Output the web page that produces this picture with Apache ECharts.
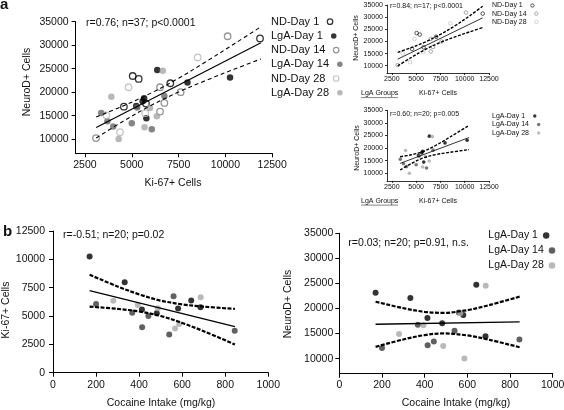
<!DOCTYPE html>
<html><head><meta charset="utf-8">
<script src="https://cdn.jsdelivr.net/npm/echarts@6/dist/echarts.min.js"></script>
<style>html,body{margin:0;padding:0;background:#fff}#c{width:564px;height:410px}</style>
</head><body><div id="c"></div>
<script>
// ---------- DATA ----------
// LgA rats: cocaine intake (mg/kg), Ki-67+ cells, NeuroD+ cells
const lgaDay1Cocaine  = [170, 333, 413, 482, 581, 642, 685];
const lgaDay1Ki67     = [10250, 7975, 5580, 5240, 5660, 6360, 5780];
const lgaDay1NeuroD   = [23150, 22080, 18100, 17050, 18700, 24750, 14450];
const lgaDay14Cocaine = [200, 368, 414, 443, 540, 560, 844];
const lgaDay14Ki67    = [6070, 5290, 4010, 5000, 3370, 6740, 3700];
const lgaDay14NeuroD  = [12130, 16750, 12680, 13400, 15580, 19200, 13800];
const lgaDay28Cocaine = [280, 394, 487, 567, 586, 686];
const lgaDay28Ki67    = [6340, 5970, 5680, 3910, 4300, 6660];
const lgaDay28NeuroD  = [14900, 16650, 12540, 19050, 10050, 24550];
// ND rats: Ki-67+ cells, NeuroD+ cells
const ndDay1Ki67    = [11850, 5050, 5370, 7060, 4580, 5760];
const ndDay1NeuroD  = [31450, 23450, 22820, 21900, 16930, 17570];
const ndDay14Ki67   = [10120, 6510, 7610, 6740, 6510, 3090];
const ndDay14NeuroD = [31900, 21050, 20000, 17720, 15870, 10250];
const ndDay28Ki67   = [8520, 4830, 5720, 4370, 3640];
const ndDay28NeuroD = [27400, 21050, 15530, 11490, 15080];

// regression lines and 95% bands
const fitAllKi = [3100, 4500, 6000, 7500, 9000, 10500, 11900];
const fitAllUpper = [14730, 17020, 19750, 22970, 26580, 30350, 33930];
const fitAllLower = [10270, 13720, 17130, 20040, 22570, 24940, 27080];
const fitAllLineKi = [3100, 11900];
const fitAllLine = [12500, 30510];

const fitNdKi = [3100, 4500, 6000, 7500, 9000, 10500, 11850];
const fitNdUpper = [15490, 17460, 19870, 22900, 26460, 30500, 34500];
const fitNdLower = [9910, 13380, 16800, 19600, 21870, 23930, 25700];
const fitNdLineKi = [3100, 11850];
const fitNdLine = [12700, 29700];

const fitLgaKi = [3350, 4500, 5700, 7000, 8500, 10450];
const fitLgaUpper = [16580, 17360, 18650, 21040, 24420, 29030];
const fitLgaLower = [11320, 13870, 16050, 17400, 18360, 19400];
const fitLgaLineKi = [3350, 10450];
const fitLgaLine = [13950, 24210];

const fitCocKi = [170, 300, 400, 500, 600, 700, 845];
const fitCocKiUpper = [8640, 7610, 6910, 6360, 6030, 5830, 5630];
const fitCocKiLower = [5830, 5630, 5400, 5000, 4390, 3660, 2490];
const fitCocKiLineX = [170, 845];
const fitCocKiLine = [7234, 4058];

const fitCocNd = [170, 300, 400, 484, 600, 700, 845];
const fitCocNdUpper = [21360, 20070, 19330, 19130, 19680, 20660, 22370];
const fitCocNdLower = [12360, 13830, 14700, 15030, 14630, 13790, 12280];
const fitCocNdLineX = [170, 845];
const fitCocNdLine = [16860, 17320];

// tick labels
const kiTicks = [2500, 5000, 7500, 10000, 12500];
const neuroTicks = [10000, 15000, 20000, 25000, 30000, 35000];
const cocTicks = [0, 200, 400, 600, 800, 1000];
const kiTicksB = [0, 2500, 5000, 7500, 10000, 12500];

// ---------- CHART ----------
const FF = '"Liberation Sans", Arial, Helvetica, sans-serif';
const chart = echarts.init(document.getElementById('c'), null, {renderer: 'canvas'});
const pairs = (xs, ys) => xs.map((x, i) => [x, ys[i]]);

function ax(gi, min, max, ticks, fs, tl, m, lw) {
  return {
    type: 'value', gridIndex: gi, min: min, max: max,
    axisLine: {show: true, onZero: false, lineStyle: {color: '#000', width: lw}},
    axisTick: {show: true, length: tl, customValues: ticks, lineStyle: {color: '#000', width: lw}},
    axisLabel: {customValues: ticks, margin: m, fontSize: fs, fontFamily: FF, color: '#111',
      formatter: v => String(v)},
    splitLine: {show: false}
  };
}

const open = (c, w) => ({color: 'rgba(255,255,255,0)', borderColor: c, borderWidth: w});
const fill = c => ({color: c});

const S = [];
function sc(name, gi, xs, ys, style, size) {
  S.push({type: 'scatter', name: name, xAxisIndex: gi, yAxisIndex: gi, data: pairs(xs, ys),
    symbol: 'circle', symbolSize: size, itemStyle: style, silent: true, z: 2});
}
function ln(gi, xs, ys, w, dashed, smooth) {
  S.push({type: 'line', xAxisIndex: gi, yAxisIndex: gi, data: pairs(xs, ys), symbol: 'none',
    smooth: smooth ? 0.35 : false, clip: true, silent: true, z: 3,
    lineStyle: {color: '#000', width: w, type: dashed || 'solid'}});
}

// panel a main
sc('ND-Day 1', 0, ndDay1Ki67, ndDay1NeuroD, open('#000', 1.3), 6.5);
sc('LgA-Day 1', 0, lgaDay1Ki67, lgaDay1NeuroD, fill('#000'), 6.5);
sc('ND-Day 14', 0, ndDay14Ki67, ndDay14NeuroD, open('#7a7a7a', 1.3), 6.5);
sc('LgA-Day 14', 0, lgaDay14Ki67, lgaDay14NeuroD, fill('#666'), 6.5);
sc('ND-Day 28', 0, ndDay28Ki67, ndDay28NeuroD, open('#b8b8b8', 1.3), 6.5);
sc('LgA-Day 28', 0, lgaDay28Ki67, lgaDay28NeuroD, fill('#a6a6a6'), 6.5);
ln(0, fitAllLineKi, fitAllLine, 1.2);
ln(0, fitAllKi, fitAllUpper, 1.1, [4, 3], true);
ln(0, fitAllKi, fitAllLower, 1.1, [4, 3], true);

// inset ND
sc('ND-Day 1', 1, ndDay1Ki67, ndDay1NeuroD, open('#000', 0.8), 3.6);
sc('ND-Day 14', 1, ndDay14Ki67, ndDay14NeuroD, open('#7a7a7a', 0.8), 3.6);
sc('ND-Day 28', 1, ndDay28Ki67, ndDay28NeuroD, open('#b8b8b8', 0.8), 3.6);
ln(1, fitNdLineKi, fitNdLine, 0.8);
ln(1, fitNdKi, fitNdUpper, 1.4, [3, 1.5], true);
ln(1, fitNdKi, fitNdLower, 1.4, [3, 1.5], true);

// inset LgA
sc('LgA-Day 1', 2, lgaDay1Ki67, lgaDay1NeuroD, fill('#000'), 3.6);
sc('LgA-Day 14', 2, lgaDay14Ki67, lgaDay14NeuroD, fill('#555'), 3.6);
sc('LgA-Day 28', 2, lgaDay28Ki67, lgaDay28NeuroD, fill('#aaa'), 3.6);
ln(2, fitLgaLineKi, fitLgaLine, 0.8);
ln(2, fitLgaKi, fitLgaUpper, 1.4, [3, 1.5], true);
ln(2, fitLgaKi, fitLgaLower, 1.4, [3, 1.5], true);

// panel b left
sc('LgA-Day 1', 3, lgaDay1Cocaine, lgaDay1Ki67, fill('#000'), 6);
sc('LgA-Day 14', 3, lgaDay14Cocaine, lgaDay14Ki67, fill('#383838'), 6);
sc('LgA-Day 28', 3, lgaDay28Cocaine, lgaDay28Ki67, fill('#a8a8a8'), 6);
ln(3, fitCocKiLineX, fitCocKiLine, 1.3);
ln(3, fitCocKi, fitCocKiUpper, 2.2, [4, 1.5], true);
ln(3, fitCocKi, fitCocKiLower, 2.2, [4, 1.5], true);

// panel b right
sc('LgA-Day 1', 4, lgaDay1Cocaine, lgaDay1NeuroD, fill('#000'), 6);
sc('LgA-Day 14', 4, lgaDay14Cocaine, lgaDay14NeuroD, fill('#383838'), 6);
sc('LgA-Day 28', 4, lgaDay28Cocaine, lgaDay28NeuroD, fill('#a8a8a8'), 6);
ln(4, fitCocNdLineX, fitCocNdLine, 1.3);
ln(4, fitCocNd, fitCocNdUpper, 2.2, [4, 1.5], true);
ln(4, fitCocNd, fitCocNdLower, 2.2, [4, 1.5], true);

// legends (one per row so the marker follows the text)
const legends = [];
function leg(name, left, cy, fs, size, style, extra) {
  legends.push({
    left: left, top: cy - (fs + 1) / 2, orient: 'vertical', align: 'right', padding: 0, itemGap: 0,
    itemWidth: size, itemHeight: size, icon: 'circle', selectedMode: false,
    data: [{name: name, itemStyle: style}],
    textStyle: {fontSize: fs, fontFamily: FF, color: '#111', lineHeight: fs + 1, padding: [0, extra, 0, 0]}
  });
}
const aNames = ['ND-Day 1', 'LgA-Day 1', 'ND-Day 14', 'LgA-Day 14', 'ND-Day 28', 'LgA-Day 28'];
const aStyles = [open('#000', 1.2), fill('#000'), open('#7a7a7a', 1.2), fill('#666'), open('#b8b8b8', 1.2), fill('#a6a6a6')];
aNames.forEach((n, i) => leg(n, 271, 21.7 + 14.2 * i, 11, 5.5, aStyles[i], 3));
['ND-Day 1', 'ND-Day 14', 'ND-Day 28'].forEach((n, i) =>
  leg(n, 492, 5.5 + 8.2 * i, 7, 3.4, [open('#000', 0.8), open('#7a7a7a', 0.8), open('#b8b8b8', 0.8)][i], 3));
['LgA-Day 1', 'LgA-Day 14', 'LgA-Day 28'].forEach((n, i) =>
  leg(n, 492, 116 + 8.5 * i, 7, 3.4, [fill('#000'), fill('#555'), fill('#aaa')][i], 3));
['LgA-Day 1', 'LgA-Day 14', 'LgA-Day 28'].forEach((n, i) =>
  leg(n, 488.3, 235.5 + 15 * i, 10.5, 6.5, [fill('#000'), fill('#383838'), fill('#a8a8a8')][i], 0));

// texts
function tx(text, x, y, fs, opt) {
  opt = opt || {};
  return {type: 'text', x: x, y: y, rotation: opt.rot || 0, silent: true, z: 10,
    style: {text: text, fill: '#111', fontSize: fs, fontFamily: FF, fontWeight: opt.bold ? 'bold' : 'normal',
      align: opt.align || 'center', verticalAlign: 'middle', textAlign: opt.align || 'center', textVerticalAlign: 'middle'}};
}
const R = Math.PI / 2;
const graphics = [
  tx('a', 0, 5, 15, {bold: true, align: 'left'}),
  tx('b', 3, 232, 15, {bold: true, align: 'left'}),
  tx('NeuroD+ Cells', 27, 82, 10.5, {rot: R}),
  tx('Ki-67+ Cells', 173, 183, 10.5),
  tx('r=0.76; n=37; p<0.0001', 86, 22.7, 10.5, {align: 'left'}),
  tx('NeuroD+ Cells', 356, 38, 7, {rot: R}),
  tx('r=0.84; n=17; p<0.0001', 390, 6, 7, {align: 'left'}),
  tx('LgA Groups', 361, 93.3, 7, {align: 'left'}),
  tx('Ki-67+ Cells', 438, 93.3, 7),
  tx('NeuroD+ Cells', 357, 148, 7, {rot: R}),
  tx('r=0.60; n=20; p=0.005', 390, 114.5, 7, {align: 'left'}),
  tx('LgA Groups', 361, 200.8, 7, {align: 'left'}),
  tx('Ki-67+ Cells', 438, 200.8, 7),
  tx('Ki-67+ Cells', 6, 310, 10.5, {rot: R}),
  tx('Cocaine Intake (mg/kg)', 161, 402.7, 10.5),
  tx('r=-0.51; n=20; p=0.02', 63, 235, 10.5, {align: 'left'}),
  tx('NeuroD+ Cells', 288.5, 304, 10.5, {rot: R}),
  tx('Cocaine Intake (mg/kg)', 456, 403.3, 10.5),
  tx('r=0.03; n=20; p=0.91, n.s.', 348.3, 243.3, 10.5, {align: 'left'}),
  {type: 'line', silent: true, shape: {x1: 361, y1: 97.6, x2: 398, y2: 97.6}, style: {stroke: '#333', lineWidth: 0.6}},
  {type: 'line', silent: true, shape: {x1: 361, y1: 205.1, x2: 398, y2: 205.1}, style: {stroke: '#333', lineWidth: 0.6}}
];

const gridBase = {containLabel: false, outerBoundsMode: 'none', show: false};
chart.setOption({
  animation: false,
  backgroundColor: '#fff',
  grid: [
    Object.assign({left: 75.6, top: 21.7, width: 196.6, height: 131.6}, gridBase),
    Object.assign({left: 387, top: 5, width: 102, height: 68}, gridBase),
    Object.assign({left: 387, top: 110.3, width: 102, height: 70.6}, gridBase),
    Object.assign({left: 53, top: 231, width: 215.3, height: 141.7}, gridBase),
    Object.assign({left: 339.3, top: 233.3, width: 213.4, height: 140.4}, gridBase)
  ],
  xAxis: [
    ax(0, 2000, 12500, kiTicks, 10.5, 4, 6, 1),
    ax(1, 2000, 12500, kiTicks, 7, 2, 3, 0.8),
    ax(2, 2000, 12500, kiTicks, 7, 2, 3, 0.8),
    ax(3, 0, 1000, cocTicks, 10.5, 4, 7, 1),
    ax(4, 0, 1000, cocTicks, 10.5, 4, 6, 1)
  ],
  yAxis: [
    ax(0, 7000, 35000, neuroTicks, 10.5, 4, 7, 1),
    ax(1, 7000, 35000, neuroTicks, 7, 2, 4, 0.8),
    ax(2, 7000, 35000, neuroTicks, 7, 2, 4, 0.8),
    ax(3, 0, 12500, kiTicksB, 10.5, 4, 8, 1),
    ax(4, 7000, 35000, neuroTicks, 10.5, 4, 6, 1)
  ],
  legend: legends,
  graphic: graphics,
  series: S
});
</script></body></html>
